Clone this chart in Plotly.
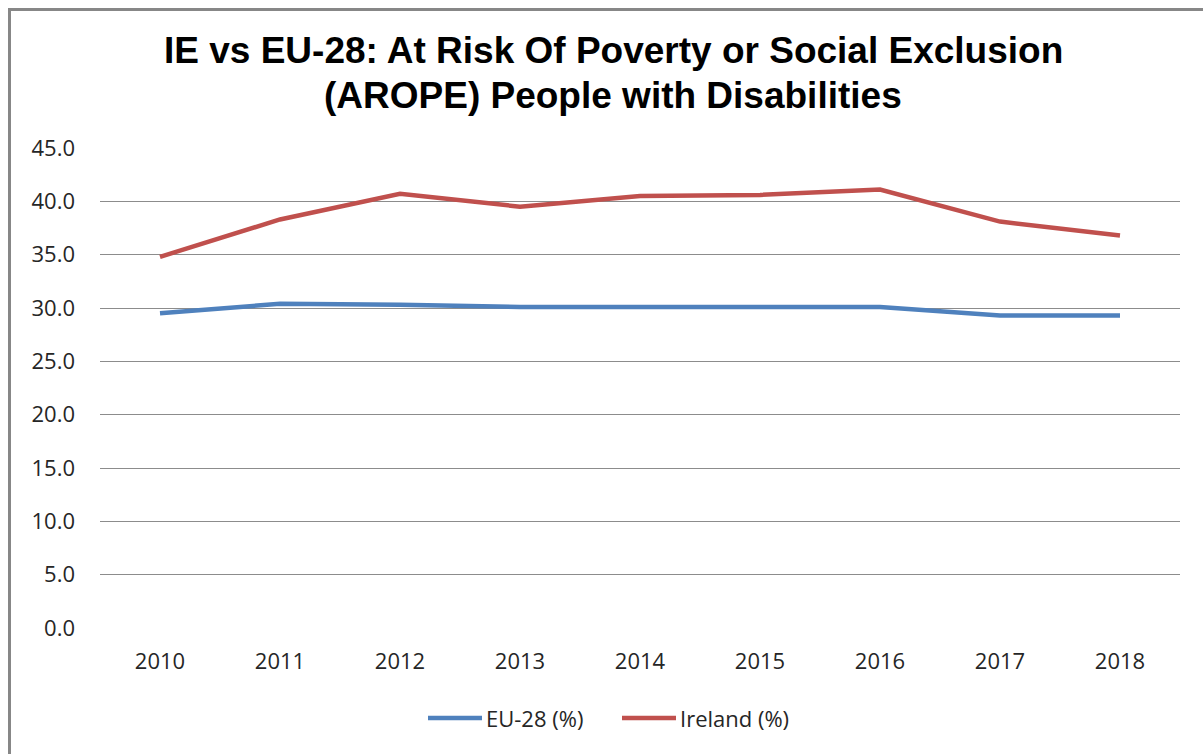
import plotly.graph_objects as go

# Survey years and AROPE rates (%) for people with disabilities
years = ["2010", "2011", "2012", "2013", "2014", "2015", "2016", "2017", "2018"]
eu28 = [29.5, 30.4, 30.3, 30.1, 30.1, 30.1, 30.1, 29.3, 29.3]
ireland = [34.8, 38.3, 40.7, 39.5, 40.5, 40.6, 41.1, 38.1, 36.8]
y_ticks = [0, 5, 10, 15, 20, 25, 30, 35, 40, 45]
y_tick_labels = [f"{v:.1f}" for v in y_ticks]

series = [
    ("EU-28 (%)", eu28, "#4F81BD"),
    ("Ireland (%)", ireland, "#C0504D"),
]

W, H = 1203, 754
L, R, T, B = 100, 23, 148, 126
plot_w = W - L - R
plot_h = H - T - B


def px_to_paper_x(px):
    return (px - L) / plot_w


def px_to_paper_y(py):
    return (H - B - py) / plot_h


fig = go.Figure()
for name, values, color in series:
    fig.add_trace(go.Scatter(
        x=years, y=values, name=name, mode="lines",
        line=dict(color=color, width=4.5),
    ))

# Chart frame
fig.add_shape(
    type="rect", xref="paper", yref="paper",
    x0=px_to_paper_x(9.5), x1=px_to_paper_x(1230),
    y0=px_to_paper_y(800), y1=px_to_paper_y(9.5),
    line=dict(color="#878787", width=3), fillcolor="rgba(0,0,0,0)",
    layer="below",
)

# Two-line title
title_font = dict(family="Liberation Sans", size=37, color="#000000", weight="bold")
for text, ypx in [("IE vs EU-28: At Risk Of Poverty or Social Exclusion", 50),
                  ("(AROPE) People with Disabilities", 95)]:
    fig.add_annotation(
        text=text, xref="paper", yref="paper",
        x=px_to_paper_x(613), y=px_to_paper_y(ypx),
        xanchor="center", yanchor="middle", showarrow=False, font=title_font,
    )

# Legend row beneath the axis: a line sample followed by its label
legend_font = dict(family="Open Sans", size=22, color="#262626")
legend_y = px_to_paper_y(718)
for (name, _, color), x_start in zip(series, [428, 622]):
    fig.add_shape(
        type="line", xref="paper", yref="paper",
        x0=px_to_paper_x(x_start), x1=px_to_paper_x(x_start + 54),
        y0=legend_y, y1=legend_y,
        line=dict(color=color, width=4.5),
    )
    fig.add_annotation(
        text=name, xref="paper", yref="paper",
        x=px_to_paper_x(x_start + 56), y=legend_y,
        xanchor="left", yanchor="middle", showarrow=False, font=legend_font,
    )

fig.update_layout(
    width=W, height=H,
    margin=dict(l=L, r=R, t=T, b=B),
    paper_bgcolor="white", plot_bgcolor="white",
    font=dict(family="Open Sans", size=22, color="#262626"),
    showlegend=False,
)
fig.update_xaxes(
    type="category", range=[-0.5, len(years) - 0.5],
    showgrid=False, zeroline=False, showline=False,
    ticks="", ticklabelstandoff=18,
)
fig.update_yaxes(
    range=[0, 45], tickvals=y_ticks, ticktext=y_tick_labels,
    showgrid=True, gridcolor="#8C8C8C", gridwidth=1,
    zeroline=False, showline=False, ticks="", ticklabelstandoff=24,
)

fig.write_html("out.html")
